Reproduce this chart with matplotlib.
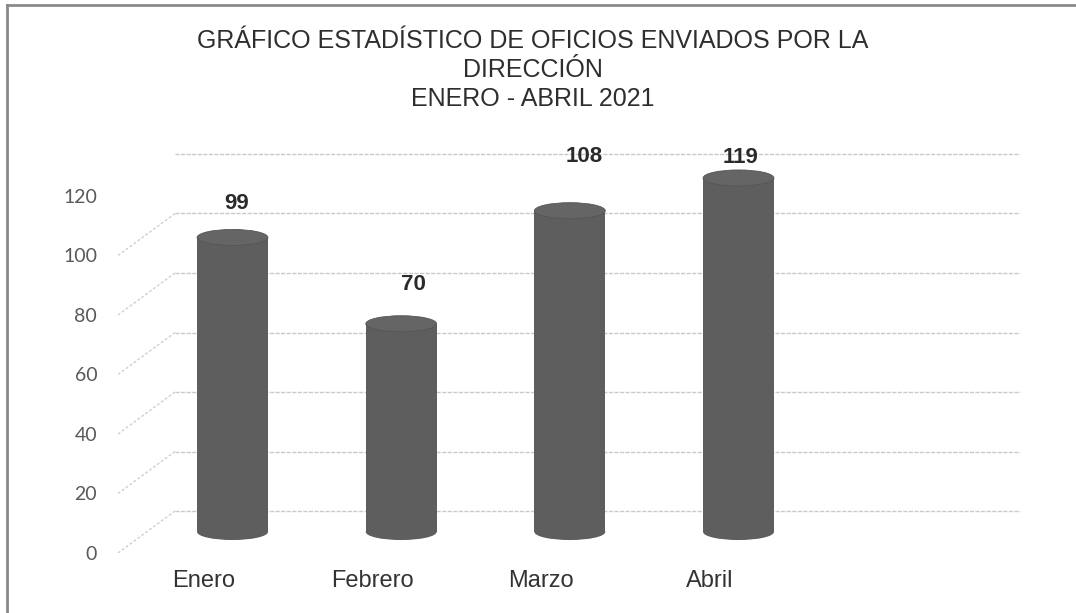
import matplotlib
matplotlib.use('Agg')
import matplotlib.pyplot as plt
from matplotlib.patches import Rectangle, Ellipse
from matplotlib.lines import Line2D
from matplotlib.transforms import ScaledTranslation, IdentityTransform

meses = ["Enero", "Febrero", "Marzo", "Abril"]
oficios = [99, 70, 108, 119]
y_ticks = [0, 20, 40, 60, 80, 100, 120]
titulo = "GRÁFICO ESTADÍSTICO DE OFICIOS ENVIADOS POR LA\nDIRECCIÓN\nENERO - ABRIL 2021"

# desplazamiento de las etiquetas de valor (puntos), como en el original
label_shift = [(3, 24.5), (8.6, 28), (10, 39), (1.5, 14.4)]

W, H = 1076, 613
fig = plt.figure(figsize=(W / 100, H / 100), dpi=100)
fig.patch.set_facecolor('white')


def px_box(l, t, r, b):
    return [l / W, 1 - b / H, (r - l) / W, (b - t) / H]


ax = fig.add_axes(px_box(118, 196, 963, 553))
ax.set_xlim(-0.51, 4.5)
ax.set_ylim(0, 120)
ax.patch.set_alpha(0)
for s in ax.spines.values():
    s.set_visible(False)

# profundidad del grafico 3D simulado
fondo = ScaledTranslation(0.57, 0.42, fig.dpi_scale_trans)
medio = ScaledTranslation(0.285, 0.21, fig.dpi_scale_trans)

grid_col = '#c9c9c9'
ty = ax.get_yaxis_transform()
for v in y_ticks:
    ax.plot([0, 1], [v, v], transform=ty + fondo, color=grid_col,
            lw=1, ls=(0, (3, 1)), clip_on=False, zorder=1)
    p0 = ty.transform((0, v))
    p1 = (ty + fondo).transform((0, v))
    ax.add_line(Line2D([p0[0], p1[0]], [p0[1], p1[1]], transform=IdentityTransform(),
                       color='#cfcfcf', lw=1, ls=(0, (2, 1.5)), zorder=1))

# cilindros
ancho = 0.42
elip = 5.4
cuerpo = '#5e5e5e'
tapa = '#656565'
tr = ax.transData + medio
for i, v in enumerate(oficios):
    ax.add_patch(Ellipse((i, 0), ancho, elip, transform=tr, fc=cuerpo, ec='none',
                         clip_on=False, zorder=3))
    ax.add_patch(Rectangle((i - ancho / 2, 0), ancho, v, transform=tr, fc=cuerpo, ec='none',
                           clip_on=False, zorder=3))
    ax.add_patch(Ellipse((i, v), ancho, elip, transform=tr, fc=tapa, ec='#555555', lw=0.6,
                         clip_on=False, zorder=4))
    ax.annotate(str(v), xy=(i, v), xycoords=tr, xytext=label_shift[i],
                textcoords='offset points', ha='center', va='center',
                fontsize=16, fontweight='bold', color='#2a2a2a',
                family='Liberation Sans', zorder=5)

ax.set_yticks(y_ticks)
ax.set_yticklabels([str(t) for t in y_ticks], family='Lato', fontsize=14, color='#595959')
ax.tick_params(axis='y', length=0, pad=15)
ax.set_xticks(range(len(meses)))
ax.set_xticklabels(meses, family='Liberation Sans', fontsize=17, color='#333333')
ax.tick_params(axis='x', length=0, pad=12)

fig.text(533 / W, 1 - 70 / H, titulo, ha='center', va='center', fontsize=18,
         color='#2e2e2e', family='Liberation Sans', linespacing=1.25)

# marco del documento escaneado
fig.add_artist(Line2D([7 / W, 7 / W], [0, 1 - 5 / H], transform=fig.transFigure,
                      color='#8a8a8a', lw=2))
fig.add_artist(Line2D([7 / W, 1], [1 - 5 / H, 1 - 5 / H], transform=fig.transFigure,
                      color='#8a8a8a', lw=2))

fig.savefig('out.png', dpi=100, facecolor='white')
